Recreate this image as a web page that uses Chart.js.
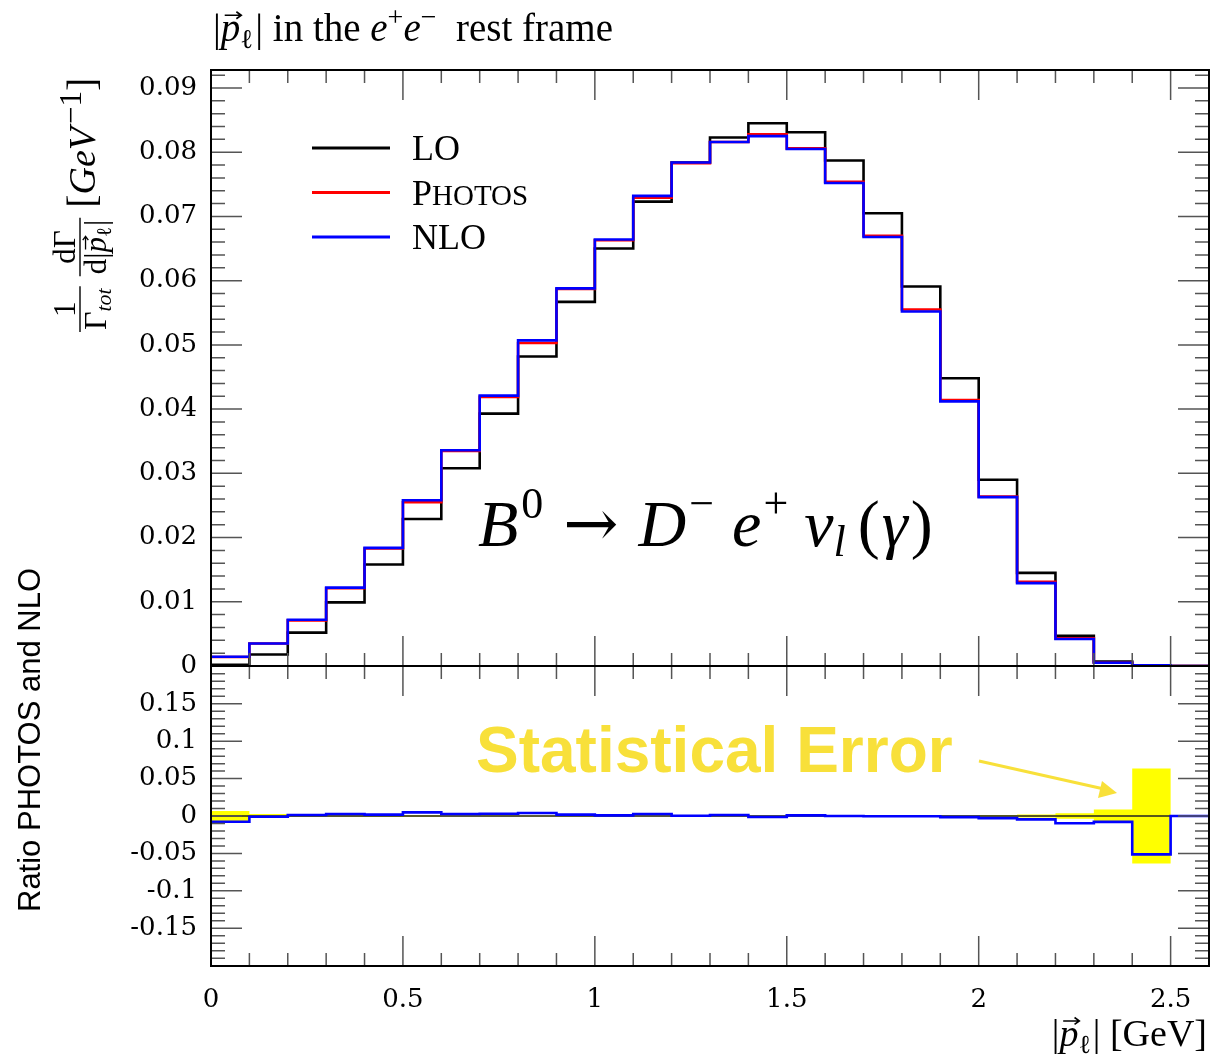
<!DOCTYPE html>
<html>
<head>
<meta charset="utf-8">
<script src="https://cdn.jsdelivr.net/npm/chart.js@4.4.0/dist/chart.umd.min.js"></script>
<style>
  html, body { margin: 0; padding: 0; background: #fff; }
  #wrap { position: relative; width: 1211px; height: 1058px; }
  #wrap canvas { position: absolute; left: 0; }
  #topCanvas { top: 0; width: 1211px; height: 700px; }
  #ratioCanvas { top: 500px; width: 1211px; height: 558px; }
</style>
</head>
<body>
<div id="wrap">
  <canvas id="topCanvas" width="1211" height="700"></canvas>
  <canvas id="ratioCanvas" width="1211" height="558"></canvas>
</div>
<script>
// bin edges of |p_l| in GeV
const binEdges = [0, 0.1, 0.2, 0.3, 0.4, 0.5, 0.6, 0.7, 0.8, 0.9, 1.0, 1.1, 1.2, 1.3,
  1.4, 1.5, 1.6, 1.7, 1.8, 1.9, 2.0, 2.1, 2.2, 2.3, 2.4, 2.5, 2.6];

// normalised distributions, one value per bin
const loValues = [0.0002, 0.0018, 0.0052, 0.0099, 0.0158, 0.0229, 0.0308, 0.0393, 0.0482,
  0.0567, 0.0650, 0.0723, 0.0784, 0.0823, 0.0845, 0.0831, 0.0787, 0.0705, 0.0591, 0.0448,
  0.0290, 0.0145, 0.0047, 0.0007, 0.0001, 0.0];
const photosValues = [0.0014, 0.0035, 0.0071, 0.0121, 0.0183, 0.0255, 0.0335, 0.0419, 0.0503,
  0.0587, 0.0663, 0.0729, 0.0783, 0.0816, 0.0828, 0.0806, 0.0754, 0.0670, 0.0555, 0.0414,
  0.0264, 0.0131, 0.0043, 0.0005, 0.0001, 0.0];
const nloValues = [0.00145, 0.0035, 0.0072, 0.0122, 0.0184, 0.0258, 0.0336, 0.0421, 0.0507,
  0.0588, 0.0664, 0.0732, 0.0784, 0.0816, 0.0825, 0.0805, 0.0752, 0.0668, 0.0552, 0.0412,
  0.0263, 0.0129, 0.0042, 0.0005, 0.0001, 0.0];

// ratio panel
const ratioValues = [-0.0076, -0.001, 0.0013, 0.0027, 0.0018, 0.0049, 0.0027, 0.003, 0.004,
  0.0018, 0.0009, 0.0027, 0.0004, 0.0013, -0.0013, 0.0009, 0.0, -0.0004, -0.0004, -0.0015,
  -0.0029, -0.0045, -0.0096, -0.0078, -0.0513, 0.0];
const statErrValues = [0.0066, 0.0026, 0.0012, 0.001, 0.0009, 0.0009, 0.0008, 0.0008, 0.0008,
  0.0008, 0.0008, 0.0008, 0.0008, 0.0008, 0.0008, 0.0008, 0.0009, 0.0009, 0.001, 0.0011,
  0.0013, 0.002, 0.0038, 0.0088, 0.0636, 0.0];

// axis ticks
const topTickValues = [0, 0.01, 0.02, 0.03, 0.04, 0.05, 0.06, 0.07, 0.08, 0.09];
const topTickLabels = ['0', '0.01', '0.02', '0.03', '0.04', '0.05', '0.06', '0.07', '0.08', '0.09'];
const ratioTickValues = [-0.15, -0.1, -0.05, 0, 0.05, 0.1, 0.15];
const ratioTickLabels = ['-0.15', '-0.1', '-0.05', '0', '0.05', '0.1', '0.15'];
const xTickValues = [0, 0.5, 1, 1.5, 2, 2.5];
const xTickLabels = ['0', '0.5', '1', '1.5', '2', '2.5'];

const SERIF = '"Liberation Serif", "DejaVu Serif", serif';
const TICKFONT = '26px "DejaVu Serif", serif';
const YELLOW_TEXT = '#f8e03a';

// histogram as step points on bin low edges + closing edge
const stepPoints = (vals) => {
  const pts = vals.map((v, i) => ({ x: binEdges[i], y: v }));
  pts.push({ x: binEdges[vals.length], y: vals[vals.length - 1] });
  return pts;
};

const P = (text, size, o = {}) => ({
  text, size,
  font: (o.italic ? 'italic ' : '') + size + 'px ' + (o.family || SERIF),
  dy: o.dy || 0, vec: !!o.vec, after: o.after || 0,
});

const measureRich = (ctx, parts) => {
  let w = 0;
  parts.forEach((p) => { ctx.font = p.font; p.w = ctx.measureText(p.text).width; w += p.w + p.after; });
  return w;
};

const drawVec = (ctx, x, y, w, size) => {
  const h = size * 0.09;
  ctx.save();
  ctx.lineWidth = Math.max(1, size / 24);
  ctx.beginPath();
  ctx.moveTo(x, y); ctx.lineTo(x + w, y);
  ctx.moveTo(x + w - h * 1.4, y - h); ctx.lineTo(x + w, y); ctx.lineTo(x + w - h * 1.4, y + h);
  ctx.stroke();
  ctx.restore();
};

const drawRich = (ctx, parts, x, y, align) => {
  const total = measureRich(ctx, parts);
  let cx = align === 'right' ? x - total : align === 'center' ? x - total / 2 : x;
  ctx.textAlign = 'left';
  ctx.textBaseline = 'alphabetic';
  parts.forEach((p) => {
    ctx.font = p.font;
    const by = y + p.dy;
    ctx.fillText(p.text, cx, by);
    if (p.vec) drawVec(ctx, cx + p.w * 0.2, by - p.size * 0.66, p.w * 0.85, p.size);
    cx += p.w + p.after;
  });
  return total;
};

const drawFrac = (ctx, num, den, x) => {
  const w = Math.max(measureRich(ctx, num), measureRich(ctx, den)) + 4;
  drawRich(ctx, num, x + w / 2, -5, 'center');
  drawRich(ctx, den, x + w / 2, 26, 'center');
  ctx.beginPath();
  ctx.moveTo(x, 0); ctx.lineTo(x + w, 0);
  ctx.stroke();
  return x + w;
};

// frame with inward ticks on all four sides
const drawFrame = (chart, yMajor, yMinorStep, yMinorCount) => {
  const ctx = chart.ctx;
  const { left, right, top, bottom } = chart.chartArea;
  const xs = chart.scales.x;
  const ys = chart.scales.y;
  ctx.save();
  ctx.strokeStyle = '#555';
  ctx.lineWidth = 1.5;
  ctx.beginPath();
  for (let i = 0; i <= 26; i++) {
    const px = xs.getPixelForValue(i / 10);
    const len = i % 5 === 0 ? 30 : 13;
    ctx.moveTo(px, bottom); ctx.lineTo(px, bottom - len);
    ctx.moveTo(px, top); ctx.lineTo(px, top + len);
  }
  const start = Math.ceil(ys.min / yMinorStep);
  for (let i = start; i <= start + yMinorCount; i++) {
    const val = i * yMinorStep;
    if (val < ys.min || val > ys.max) continue;
    const py = ys.getPixelForValue(val);
    const isMajor = yMajor.some((m) => Math.abs(m - val) < yMinorStep / 10);
    const len = isMajor ? 31 : 14;
    ctx.moveTo(left, py); ctx.lineTo(left + len, py);
    ctx.moveTo(right, py); ctx.lineTo(right - len, py);
  }
  ctx.stroke();
  ctx.strokeStyle = '#000';
  ctx.lineWidth = 2;
  ctx.strokeRect(left, top, right - left, bottom - top);
  ctx.restore();
};

const drawYLabels = (chart, values, labels) => {
  const ctx = chart.ctx;
  const ys = chart.scales.y;
  ctx.save();
  ctx.fillStyle = '#000';
  ctx.font = TICKFONT;
  ctx.textAlign = 'right';
  ctx.textBaseline = 'middle';
  values.forEach((v, i) => ctx.fillText(labels[i], chart.chartArea.left - 14, ys.getPixelForValue(v)));
  ctx.restore();
};

const topDecor = {
  id: 'topDecor',
  afterDraw(chart) {
    const ctx = chart.ctx;
    drawFrame(chart, topTickValues, 0.002, 50);
    drawYLabels(chart, topTickValues, topTickLabels);
    ctx.save();
    ctx.fillStyle = '#000';
    ctx.strokeStyle = '#000';

    // title
    drawRich(ctx, [
      P('|', 39), P('p', 39, { italic: true, vec: true }), P('\u2113', 27, { dy: 7, after: 2 }), P('|', 39),
      P(' in the ', 39), P('e', 39, { italic: true }), P('+', 28, { dy: -15 }),
      P('e', 39, { italic: true }), P('\u2212', 28, { dy: -15 }), P('  rest frame', 39),
    ], 213, 41, 'left');

    // legend from the datasets
    const legendRows = [2, 1, 0];
    legendRows.forEach((di, row) => {
      const ds = chart.data.datasets[di];
      const y = 148 + row * 44.5;
      ctx.strokeStyle = ds.borderColor;
      ctx.lineWidth = 3;
      ctx.beginPath(); ctx.moveTo(312, y); ctx.lineTo(390, y); ctx.stroke();
      const parts = ds.label === 'PHOTOS'
        ? [P('P', 36), P('HOTOS', 29)]
        : [P(ds.label, 36)];
      drawRich(ctx, parts, 412, y + 12, 'left');
    });

    // process label
    ctx.strokeStyle = '#000';
    drawRich(ctx, [
      P('B', 66, { italic: true, after: 3 }), P('0', 44, { dy: -28, after: 20 }),
      P('\u2192', 66, { family: '"DejaVu Serif", serif', after: 20 }),
      P('D', 66, { italic: true, after: 3 }), P('\u2212', 44, { dy: -28, after: 18 }),
      P('e', 66, { italic: true, after: 2 }), P('+', 44, { dy: -28, after: 16 }),
      P('\u03bd', 66, { italic: true }), P('l', 44, { italic: true, dy: 10, after: 12 }),
      P('(', 66, { after: 2 }), P('\u03b3', 66, { italic: true, after: 3 }), P(')', 66),
    ], 478, 546, 'left');

    // y title (rotated)
    ctx.save();
    ctx.translate(80, 332);
    ctx.rotate(-Math.PI / 2);
    ctx.lineWidth = 1.4;
    let lx = 0;
    lx = drawFrac(ctx, [P('1', 31)], [P('\u0393', 32), P('tot', 22, { italic: true, dy: 5 })], lx) + 10;
    lx = drawFrac(ctx, [P('d\u0393', 31)],
      [P('d|', 31), P('p', 31, { italic: true, vec: true }), P('\u2113', 21, { dy: 5, after: 1 }), P('|', 31)], lx) + 10;
    drawRich(ctx, [P('[', 40), P('GeV', 38, { italic: true, after: 3 }), P('\u22121', 31, { dy: -14 }), P(']', 40)], lx, 15, 'left');
    ctx.restore();
    ctx.restore();
  },
};

const ratioDecor = {
  id: 'ratioDecor',
  afterDatasetDraw(chart, args) {
    // zero reference line over the error band, under the NLO ratio
    if (args.index !== 1) return;
    const ctx = chart.ctx;
    const { left, right } = chart.chartArea;
    const y0 = chart.scales.y.getPixelForValue(0);
    ctx.save();
    ctx.strokeStyle = '#222';
    ctx.lineWidth = 1.5;
    ctx.beginPath(); ctx.moveTo(left, y0); ctx.lineTo(right, y0); ctx.stroke();
    ctx.restore();
  },
  afterDraw(chart) {
    const ctx = chart.ctx;
    const { bottom, right } = chart.chartArea;
    drawFrame(chart, ratioTickValues, 0.01, 40);
    drawYLabels(chart, ratioTickValues, ratioTickLabels);
    ctx.save();
    ctx.fillStyle = '#000';
    ctx.strokeStyle = '#000';
    ctx.font = TICKFONT;
    ctx.textAlign = 'center';
    ctx.textBaseline = 'middle';
    xTickValues.forEach((v, i) => ctx.fillText(xTickLabels[i], chart.scales.x.getPixelForValue(v), bottom + 34));

    drawRich(ctx, [
      P('|', 38), P('p', 38, { italic: true, vec: true }), P('\u2113', 26, { dy: 7, after: 2 }), P('|', 38), P(' [GeV]', 38),
    ], right - 2, bottom + 80, 'right');

    // ratio title
    ctx.save();
    ctx.translate(31, 240);
    ctx.rotate(-Math.PI / 2);
    ctx.font = '31px "Liberation Sans", Arial, sans-serif';
    ctx.textAlign = 'center';
    ctx.textBaseline = 'middle';
    ctx.fillText('Ratio PHOTOS and NLO', 0, 0);
    ctx.restore();

    // annotation
    ctx.fillStyle = YELLOW_TEXT;
    ctx.font = 'bold 64px "Liberation Sans", Arial, sans-serif';
    ctx.textAlign = 'left';
    ctx.textBaseline = 'alphabetic';
    ctx.fillText('Statistical Error', 476, 272);
    ctx.strokeStyle = YELLOW_TEXT;
    ctx.lineWidth = 3;
    ctx.beginPath(); ctx.moveTo(979, 261); ctx.lineTo(1104, 289); ctx.stroke();
    ctx.beginPath();
    ctx.moveTo(1117, 293); ctx.lineTo(1102, 281); ctx.lineTo(1098, 298); ctx.closePath();
    ctx.fill();
    ctx.restore();
  },
};

const lineDs = (label, vals, color, order) => ({
  label, data: stepPoints(vals), borderColor: color, backgroundColor: color,
  borderWidth: 2.6, stepped: 'before', pointRadius: 0, fill: false, order,
});

const baseOptions = (yMin, yMax, padding) => ({
  responsive: false,
  animation: false,
  events: [],
  layout: { padding },
  plugins: { legend: { display: false }, tooltip: { enabled: false } },
  scales: {
    x: { type: 'linear', min: 0, max: 2.6, display: false },
    y: { type: 'linear', min: yMin, max: yMax, display: false },
  },
});

new Chart(document.getElementById('topCanvas').getContext('2d'), {
  type: 'line',
  data: {
    datasets: [
      lineDs('NLO', nloValues, '#0000ff', 0),
      lineDs('PHOTOS', photosValues, '#ff0000', 1),
      lineDs('LO', loValues, '#000000', 2),
    ],
  },
  options: baseOptions(0, 0.0928, { left: 211, right: 2, top: 70, bottom: 34 }),
  plugins: [topDecor],
});

new Chart(document.getElementById('ratioCanvas').getContext('2d'), {
  type: 'line',
  data: {
    datasets: [
      lineDs('NLO / PHOTOS', ratioValues, '#0000ff', 0),
      {
        label: 'stat. error +', data: stepPoints(statErrValues), stepped: 'before',
        borderWidth: 0, borderColor: 'rgba(0,0,0,0)', pointRadius: 0,
        backgroundColor: '#ffff00', fill: '+1', order: 2,
      },
      {
        label: 'stat. error -', data: stepPoints(statErrValues.map((e) => -e)), stepped: 'before',
        borderWidth: 0, borderColor: 'rgba(0,0,0,0)', pointRadius: 0, fill: false, order: 3,
      },
    ],
  },
  options: baseOptions(-0.2005, 0.2005, { left: 211, right: 2, top: 166, bottom: 92 }),
  plugins: [ratioDecor],
});
</script>
</body>
</html>
